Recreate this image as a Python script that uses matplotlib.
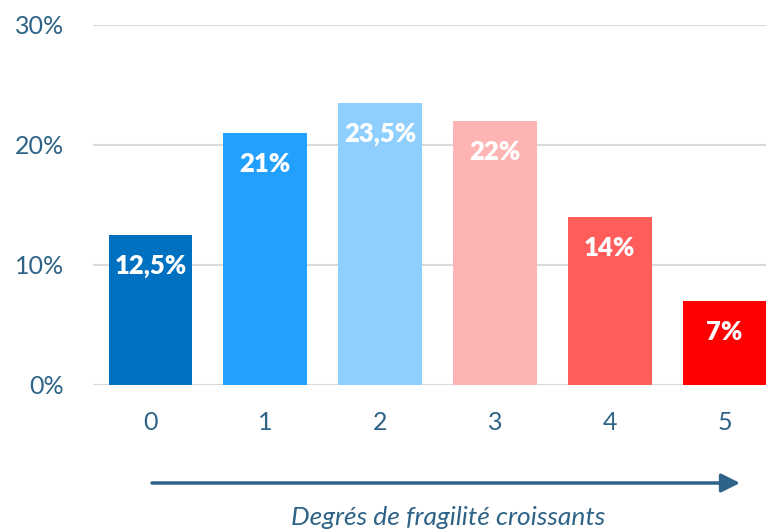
import matplotlib.pyplot as plt
from matplotlib.ticker import FuncFormatter

# données
degres = ["0", "1", "2", "3", "4", "5"]
parts = [12.5, 21, 23.5, 22, 14, 7]
etiquettes = ["12,5%", "21%", "23,5%", "22%", "14%", "7%"]
couleurs = ["#0070C0", "#22A0FF", "#8FCFFF", "#FFB4B4", "#FF5C5C", "#FF0000"]
graduations = [0, 10, 20, 30]

bleu = "#2E6387"
plt.rcParams['font.family'] = ['Lato', 'DejaVu Sans']

fig = plt.figure(figsize=(7.66, 5.32), dpi=100)
ax = fig.add_axes([93 / 766, 1 - 385 / 532, 689 / 766, 360 / 532])

x = range(len(degres))
barres = ax.bar(x, parts, width=0.73, color=couleurs, zorder=3)

for b, txt in zip(barres, etiquettes):
    ax.annotate(txt, (b.get_x() + b.get_width() / 2, b.get_height()),
                xytext=(0, -22.5), textcoords='offset points',
                ha='center', va='center', color='white',
                fontsize=18.5, fontweight='heavy', zorder=4)

ax.set_xlim(-0.5, 5.5)
ax.set_ylim(0, 30)
ax.set_yticks(graduations)
ax.yaxis.set_major_formatter(FuncFormatter(lambda v, p: f"{v:.0f}%"))
ax.set_xticks(list(x))
ax.set_xticklabels(degres)
ax.tick_params(axis='both', length=0, labelsize=18, labelcolor=bleu)
ax.tick_params(axis='y', pad=21)
ax.tick_params(axis='x', pad=19)
ax.yaxis.grid(True, color='#D9D9D9', linewidth=1.5, zorder=0)
for s in ax.spines.values():
    s.set_visible(False)

# flèche et légende de l'axe
ax.annotate('', xy=(740 / 766, 49 / 532), xytext=(152 / 766, 49 / 532),
            xycoords='figure fraction', textcoords='figure fraction',
            arrowprops=dict(arrowstyle='-|>', color=bleu, lw=2.5,
                            mutation_scale=28, shrinkA=0, shrinkB=0))
fig.text(448 / 766, 7 / 532, "Degrés de fragilité croissants",
         ha='center', va='baseline', fontsize=19, style='italic', color=bleu)

fig.savefig("out.png", dpi=100)
